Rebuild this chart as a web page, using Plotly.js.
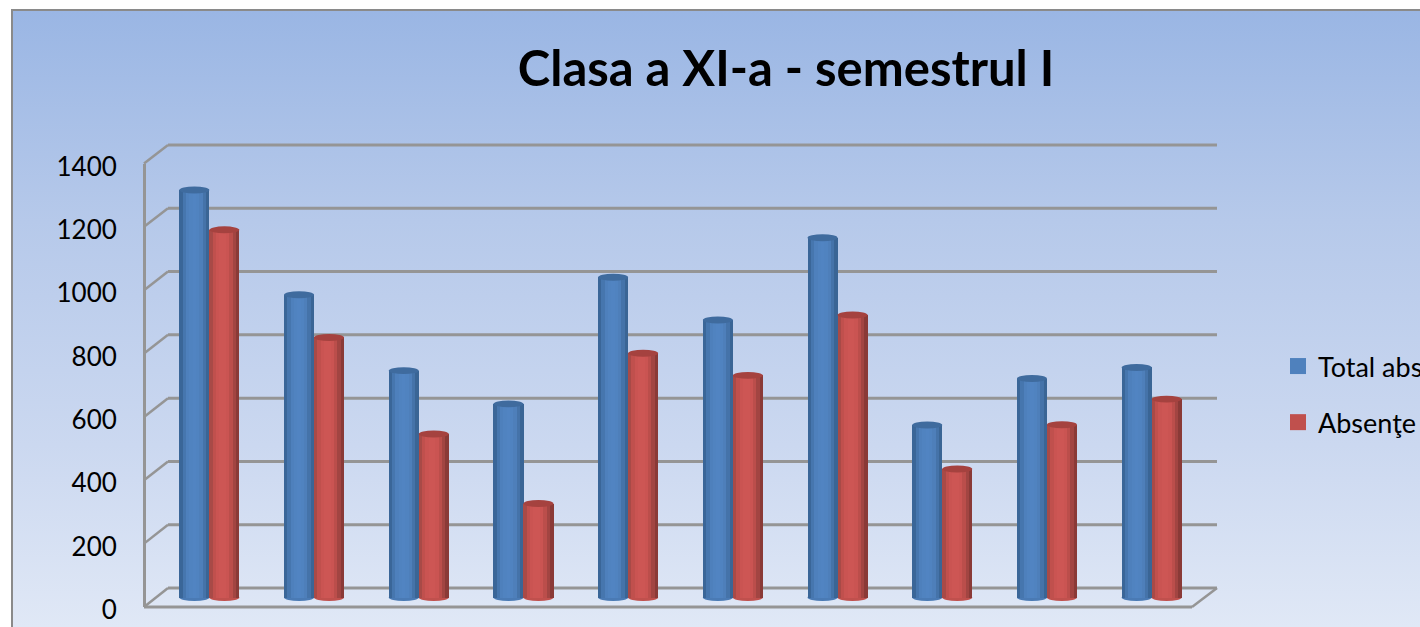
<!DOCTYPE html>
<html>
<head>
<meta charset="utf-8">
<script src="https://cdn.plot.ly/plotly-3.0.1.min.js"></script>
<style>
html,body{margin:0;padding:0;width:1420px;height:627px;overflow:hidden;background:#fff;}
#frame{position:absolute;left:11px;top:9px;width:1700px;height:700px;border:2px solid #8a8a8a;
background:linear-gradient(180deg,#9ab6e4 0%,#b6c9ea 30%,#cbd8f0 62%,#e0e8f6 88%);}
#chart{position:absolute;left:0;top:0;width:1700px;height:627px;}
</style>
</head>
<body>
<div id="frame"></div>
<div id="chart"></div>
<script>
const categories = ["1","2","3","4","5","6","7","8","9","10"];
const totalAbsente = [1288,957,717,612,1012,877,1137,545,692,727];
const absente = [1162,822,517,297,772,702,893,406,546,627];
const tickValues = [0,200,400,600,800,1000,1200,1400];
const seriesNames = ["Total absenţe","Absenţe"];
const titleText = "Clasa a XI-a - semestrul I";

const W=1700,H=627,FONT='Lato, Carlito, Calibri, sans-serif';
const fx=p=>p/W, fy=p=>1-p/H;
const frontY=t=>607-t*(607-163.5)/1400, backY=t=>588-t*(588-145)/1400;
const xs=categories.map((c,i)=>i);
const bw=30/104.7, strips=9;
const bluePal=['#3a6698','#4676ae','#4e80bc','#5083c0','#5184c2','#5083c0','#4e7fba','#4573a9','#3a6595'];
const redPal=['#a84a47','#c0504d','#ca5452','#cd5654','#cd5654','#ca5452','#bb4e4b','#a24542','#8a3a37'];
const data=[];
function cyl(vals,name,pal,off){
  pal.forEach((col,k)=>data.push({type:'bar',x:xs,y:vals,name:name,xaxis:'x',yaxis:'y2',showlegend:false,hoverinfo:k===0?'y+name':'skip',
    width:bw/strips+0.001,offset:off+bw*k/strips,marker:{color:col,line:{width:0}}}));
}
cyl(totalAbsente,seriesNames[0],bluePal,-bw);
cyl(absente,seriesNames[1],redPal,0);
seriesNames.forEach((n,i)=>data.push({type:'scatter',mode:'markers',x:[null],y:[null],name:n,legendgroup:'g'+i,
  marker:{symbol:'square',size:16,color:['#4f81bd','#c0504d'][i]},xaxis:'x',yaxis:'y',hoverinfo:'skip'}));

const gridLine={color:'#959595',width:3};
const shapes=[];
tickValues.forEach(t=>{
  shapes.push({type:'line',xref:'paper',yref:'paper',x0:fx(168),x1:fx(1217),y0:fy(backY(t)),y1:fy(backY(t)),line:gridLine,layer:'below'});
  shapes.push({type:'line',xref:'paper',yref:'paper',x0:fx(144),x1:fx(168),y0:fy(frontY(t)),y1:fy(backY(t)),line:{color:'#959595',width:2.5},layer:'below'});
});
shapes.push({type:'line',xref:'paper',yref:'paper',x0:fx(144),x1:fx(1192),y0:fy(frontY(0)),y1:fy(frontY(0)),line:gridLine,layer:'below'});
shapes.push({type:'line',xref:'paper',yref:'paper',x0:fx(1192),x1:fx(1217),y0:fy(frontY(0)),y1:fy(backY(0)),line:{color:'#959595',width:2.5},layer:'below'});
const capH=11;
function caps(vals,off,capCol,baseCol){
  vals.forEach((v,i)=>{
    shapes.push({type:'circle',xref:'x',yref:'y2',x0:i+off,x1:i+off+bw,y0:-capH,y1:capH,fillcolor:baseCol,line:{width:0},layer:'below'});
    shapes.push({type:'circle',xref:'x',yref:'y2',x0:i+off,x1:i+off+bw,y0:v-capH,y1:v+capH,fillcolor:capCol,line:{width:0},layer:'above'});
  });
}
caps(totalAbsente,-bw,'#3f6b9e','#4a7ab4');
caps(absente,0,'#a5423f','#c0504d');

const layout={
  width:W,height:H,margin:{l:0,r:0,t:0,b:0},
  paper_bgcolor:'rgba(0,0,0,0)',plot_bgcolor:'rgba(0,0,0,0)',
  font:{family:FONT,color:'#000'},
  title:{text:titleText,font:{family:FONT,size:49,color:'#000',weight:700},x:fx(786),xanchor:'center',y:fy(69),yanchor:'middle'},
  barmode:'overlay',bargap:0,
  showlegend:true,
  legend:{x:fx(1278),xanchor:'left',y:fy(342),yanchor:'top',bgcolor:'rgba(0,0,0,0)',font:{family:FONT,size:27,color:'#000'},tracegroupgap:18,traceorder:'grouped'},
  xaxis:{domain:[fx(157),fx(1204)],range:[-0.5,9.5],showgrid:false,zeroline:false,showticklabels:false,ticks:'',showline:false,fixedrange:true},
  yaxis:{domain:[fy(frontY(0)),fy(frontY(1400))],range:[0,1400],tickvals:tickValues,ticktext:tickValues.map(String),anchor:'free',position:fx(144),
    showgrid:false,zeroline:false,showline:true,linecolor:'#959595',linewidth:2.5,ticks:'',ticklabelstandoff:21,ticklabelshift:3,tickfont:{family:FONT,size:26,color:'#000'},fixedrange:true},
  yaxis2:{overlaying:'y',range:[(597.5-607)/0.3164,(597.5-163.5)/0.3164],visible:false,showgrid:false,zeroline:false,fixedrange:true},
  shapes:shapes
};
Plotly.newPlot('chart',data,layout,{displayModeBar:false,staticPlot:true});
</script>
</body>
</html>
